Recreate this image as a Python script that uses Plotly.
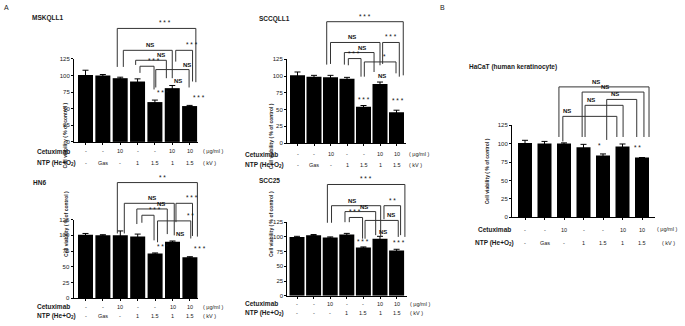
import plotly.graph_objects as go

W, H = 685, 326

# ---------------- data ----------------
categories = [0, 1, 2, 3, 4, 5, 6]
cetuximab_labels = ["-", "-", "10", "-", "-", "10", "10"]
ntp_labels = ["-", "Gas", "-", "1", "1.5", "1", "1.5"]
ntp_labels_scc25 = ["-", "-", "-", "1", "1.5", "1", "1.5"]
ytick_vals = [0, 25, 50, 75, 100, 125]

mskqll1_vals = [101, 100, 96, 91, 60, 81, 54]
mskqll1_err = [7, 1.5, 1.5, 4, 3, 4, 1]
sccqll1_vals = [101, 99, 98, 96, 54, 88, 46]
sccqll1_err = [5, 2, 3, 2, 2, 3, 3]
hn6_vals = [101, 100, 100, 98, 71, 90, 65]
hn6_err = [2, 1, 7, 4, 1, 1, 1]
scc25_vals = [100, 103, 99, 104, 82, 97, 77]
scc25_err = [1, 1, 1, 2, 1, 4, 2]
hacat_vals = [101, 100, 100, 95, 84, 96, 81]
hacat_err = [3.5, 3, 1, 4, 2, 3.5, 0]

# ---------------- layout specs (pixels) ----------------
panels = [
    dict(name="MSKQLL1", vals=mskqll1_vals, err=mskqll1_err, ntp=ntp_labels,
         ax_l=74, ax_r=198, c0=85.5, step=17.35, y0=141.5, y125=57,
         title_xy=(30, 15), lab_x=35, unit_x=201, unit_dy=0, row1=151, row2=163.5,
         ytitle_x=60, bw=15),
    dict(name="SCCQLL1", vals=sccqll1_vals, err=sccqll1_err, ntp=ntp_labels,
         ax_l=287, ax_r=406, c0=297.5, step=16.5, y0=142.7, y125=57.3,
         title_xy=(257, 16), lab_x=243, unit_x=407, unit_dy=0, row1=154, row2=165,
         ytitle_x=271, bw=15),
    dict(name="HN6", vals=hn6_vals, err=hn6_err, ntp=ntp_labels,
         ax_l=73.5, ax_r=198, c0=85.5, step=17.4, y0=300.7, y125=220.7,
         title_xy=(31, 183), lab_x=35, unit_x=201, unit_dy=0, row1=309.5, row2=319,
         ytitle_x=61, bw=15),
    dict(name="SCC25", vals=scc25_vals, err=scc25_err, ntp=ntp_labels_scc25,
         ax_l=287.3, ax_r=407, c0=297, step=16.6, y0=298.3, y125=223.3,
         title_xy=(257, 181), lab_x=243, unit_x=408, unit_dy=0, row1=306.5, row2=315.5,
         ytitle_x=271, bw=15),
    dict(name="HaCaT (human keratinocyte)", vals=hacat_vals, err=hacat_err, ntp=ntp_labels,
         ax_l=512, ax_r=655, c0=525, step=19.5, y0=218.3, y125=124.5,
         title_xy=(467, 65), lab_x=476, lab2_x=473, unit_x=655, unit_dy=-1, unit2_x=660,
         row1=231, row2=244, ytitle_x=492, bw=14),
]

# brackets: (x_left, x_right, y_top, y_left_bottom, y_right_bottom, label, label_x)
brackets = {
    "MSKQLL1": [
        (1.83, 6.36, 171, 113, 90, "***", None),
        (2.18, 5.0, 138, 113, 96, "NS", 3.4),
        (5.2, 6.17, 138, 121, 91, "***", None),
        (2.89, 4.66, 123, 116, 96, "NS", 4.0),
        (3.14, 3.95, 114, 104, 79, "***", 3.47),
        (4.05, 5.97, 109, 82, 82, "NS", 5.5),
    ],
    "SCCQLL1": [
        (1.77, 6.41, 181, 117, 101, "***", None),
        (2.0, 5.0, 150, 118, 116, "NS", 3.3),
        (5.16, 6.17, 150, 118, 99, "***", None),
        (2.84, 4.64, 135, 117, 106, "NS", 3.9),
        (3.08, 3.85, 126, 116, 99, "***", 3.43),
        (4.05, 5.97, 121, 99, 104, "*", 5.3),
    ],
    "HN6": [
        (1.83, 6.43, 184, 103, 98, "**", None),
        (2.23, 5.1, 151, 103, 100, "NS", 3.45),
        (5.2, 6.15, 151, 121, 99, "***", None),
        (2.95, 4.7, 142, 118, 102, "NS", 4.0),
        (3.24, 3.94, 132, 120, 92, "***", 3.55),
        (4.14, 6.05, 123, 89, 95, "**", 5.7),
    ],
    "SCC25": [
        (1.83, 6.5, 189, 124, 100, "***", None),
        (2.08, 5.04, 153, 124, 100, "NS", 3.3),
        (5.24, 6.24, 153, 130, 103, "**", None),
        (2.89, 4.74, 143, 125, 103, "NS", 4.05),
        (3.15, 3.95, 133, 125, 97, "***", 3.5),
        (4.1, 6.1, 128, 97, 100, "NS", 5.64),
    ],
    "HaCaT (human keratinocyte)": [
        (1.74, 6.36, 177, 109, 109, "NS", 3.95),
        (2.93, 6.1, 170, 109, 109, "NS", 4.4),
        (4.19, 5.73, 160, 105, 109, "NS", 4.9),
        (3.08, 5.03, 152, 109, 109, "NS", 3.68),
        (1.94, 4.71, 137, 103, 109, "NS", 2.47),
    ],
}

# labels directly above bars: (x, y, text)
bar_marks = {
    "MSKQLL1": [(5.0, 92, "NS"), (4.0, 75, "***"), (6.07, 67, "***")],
    "SCCQLL1": [(5.1, 100, "NS"), (4.0, 65, "***"), (6.1, 63, "***")],
    "HN6": [(5.1, 102, "NS"), (4.0, 83, "***"), (6.1, 79, "***")],
    "SCC25": [(5.16, 108, "NS"), (4.0, 92, "***"), (6.16, 91, "***")],
    "HaCaT (human keratinocyte)": [(4.0, 97, "*"), (6.07, 95, "**")],
}

FONT = "Liberation Sans, Arial, sans-serif"
TXT = "#1a1a1a"
LINE = "#333333"

fig = go.Figure()
annotations = []
shapes = []
layout = dict(width=W, height=H, margin=dict(l=0, r=0, t=0, b=0, pad=0),
              autosize=False,
              paper_bgcolor="white", plot_bgcolor="rgba(0,0,0,0)",
              showlegend=False, font=dict(family=FONT, color=TXT))


def fx(px):
    return px / W


def fy(py):
    return 1 - py / H


def px_x(p, xv):
    return p["c0"] + xv * p["step"]


def px_y(p, v):
    return p["y0"] - v * (p["y0"] - p["y125"]) / 125.0


def pap(p, xv, v):
    return fx(px_x(p, xv)), fy(px_y(p, v))


def mark_text(lab):
    if lab == "NS":
        return "<b>NS</b>"
    return " ".join(lab)


def mark_font(lab):
    return dict(size=6 if lab == "NS" else 6.5, color="#111")


for i, p in enumerate(panels):
    n = "" if i == 0 else str(i + 1)
    xa, ya = "x" + n, "y" + n
    xr = [(p["ax_l"] - p["c0"]) / p["step"], (p["ax_r"] - p["c0"]) / p["step"]]
    bw = p["bw"] / p["step"]
    fig.add_trace(go.Bar(
        x=categories, y=p["vals"], width=bw, xaxis=xa, yaxis=ya,
        marker=dict(color="black", line=dict(width=0)),
        error_y=dict(type="data", array=p["err"], visible=True, color="black",
                     thickness=1, width=3),
        cliponaxis=False, hoverinfo="skip"))
    layout["xaxis" + n] = dict(
        domain=[fx(p["ax_l"]), fx(p["ax_r"])], range=xr, anchor=ya,
        showline=True, linecolor="black", linewidth=1, ticks="outside",
        tickvals=categories, ticklen=2, tickwidth=1, tickcolor="black",
        showticklabels=False, showgrid=False, zeroline=False, fixedrange=True)
    layout["yaxis" + n] = dict(
        domain=[fy(p["y0"]), fy(p["y125"])], range=[0, 125], anchor=xa,
        showline=True, linecolor="black", linewidth=1,
        ticks="outside", tickvals=ytick_vals, ticklen=2,
        tickwidth=1, tickcolor="black", tickfont=dict(size=6, color=TXT),
        showgrid=False, zeroline=False, fixedrange=True)
    # y-axis title
    annotations.append(dict(text="<b>Cell viability ( % of control )</b>",
                            xref="paper", yref="paper", x=fx(p["ytitle_x"]),
                            y=fy(px_y(p, 62.5)),
                            textangle=-90, showarrow=False,
                            font=dict(size=5, color=TXT)))
    # panel title
    annotations.append(dict(text="<b>%s</b>" % p["name"], xref="paper", yref="paper",
                            x=fx(p["title_xy"][0]), y=fy(p["title_xy"][1]),
                            xanchor="left", yanchor="middle", showarrow=False,
                            font=dict(size=6.5, color=TXT)))
    # treatment rows
    annotations.append(dict(text="<b>Cetuximab</b>", xref="paper", yref="paper",
                            x=fx(p["lab_x"]), y=fy(p["row1"]), xanchor="left",
                            yanchor="middle", showarrow=False,
                            font=dict(size=6.5, color=TXT)))
    annotations.append(dict(text="<b>NTP (He+O<sub>2</sub>)</b>", xref="paper",
                            yref="paper", x=fx(p.get("lab2_x", p["lab_x"])),
                            y=fy(p["row2"]), xanchor="left", yanchor="middle",
                            showarrow=False, font=dict(size=6.5, color=TXT)))
    for c, (t1, t2) in enumerate(zip(cetuximab_labels, p["ntp"])):
        annotations.append(dict(text=t1, xref=xa, yref="paper", x=c, y=fy(p["row1"]),
                                showarrow=False, yanchor="middle",
                                font=dict(size=5.5, color=TXT)))
        annotations.append(dict(text=t2, xref=xa, yref="paper", x=c, y=fy(p["row2"]),
                                showarrow=False, yanchor="middle",
                                font=dict(size=5.5, color=TXT)))
    annotations.append(dict(text="( μg/ml )", xref="paper", yref="paper",
                            x=fx(p["unit_x"]), y=fy(p["row1"] + p["unit_dy"]),
                            xanchor="left", yanchor="middle", showarrow=False,
                            font=dict(size=5.5, color=TXT)))
    annotations.append(dict(text="( kV )", xref="paper", yref="paper",
                            x=fx(p.get("unit2_x", p["unit_x"])), y=fy(p["row2"]),
                            xanchor="left", yanchor="middle", showarrow=False,
                            font=dict(size=5.5, color=TXT)))
    # significance brackets (converted through the panel's value scale)
    for (xl, xrr, yt, ylb, yrb, lab, lx) in brackets[p["name"]]:
        a = pap(p, xl, ylb)
        b = pap(p, xl, yt)
        c_ = pap(p, xrr, yt)
        d = pap(p, xrr, yrb)
        path = "M %f,%f L %f,%f L %f,%f L %f,%f" % (a + b + c_ + d)
        shapes.append(dict(type="path", xref="paper", yref="paper", path=path,
                           line=dict(color=LINE, width=1)))
        tx, ty = pap(p, (xl + xrr) / 2 if lx is None else lx, yt)
        annotations.append(dict(text=mark_text(lab), xref="paper", yref="paper",
                                x=tx, y=ty, yanchor="bottom", showarrow=False,
                                font=mark_font(lab)))
    for (bx, by, lab) in bar_marks[p["name"]]:
        tx, ty = pap(p, bx, by)
        annotations.append(dict(text=mark_text(lab), xref="paper", yref="paper",
                                x=tx, y=ty, yanchor="middle", showarrow=False,
                                font=mark_font(lab)))

# panel letters
annotations.append(dict(text="A", xref="paper", yref="paper", x=fx(2), y=fy(5),
                        xanchor="left", yanchor="middle", showarrow=False,
                        font=dict(size=7, color=TXT)))
annotations.append(dict(text="B", xref="paper", yref="paper", x=fx(438), y=fy(5),
                        xanchor="left", yanchor="middle", showarrow=False,
                        font=dict(size=7, color=TXT)))

layout["annotations"] = annotations
layout["shapes"] = shapes
fig.update_layout(**layout)
fig.write_html("out.html",
               config={"displayModeBar": False, "staticPlot": True},
               post_script="document.body.style.margin='0';"
                           "document.body.style.overflow='hidden';"
                           "document.querySelectorAll('.plotly-graph-div')"
                           ".forEach(function(e){e.style.opacity='0.999';});")
